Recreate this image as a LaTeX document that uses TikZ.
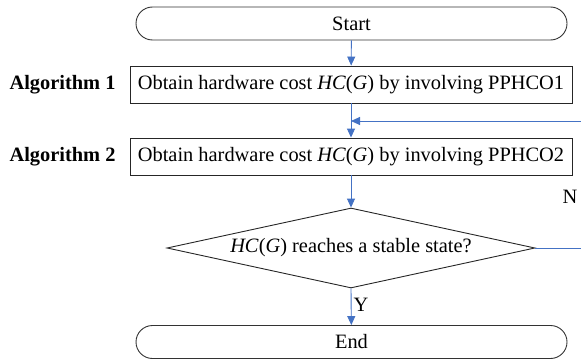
\documentclass[tikz,border=0pt]{standalone}
\usepackage{fontspec}
\setmainfont{Liberation Serif}
\usetikzlibrary{arrows.meta,shapes.geometric}
\definecolor{lineblue}{RGB}{68,114,196}
\begin{document}
\begin{tikzpicture}[x=1pt,y=-1pt,
  font=\fontsize{20.4}{24}\selectfont,
  term/.style={draw=black!80, line width=0.9pt, rounded corners=16.5pt, minimum width=431pt, minimum height=33pt, inner sep=0pt},
  procbox/.style={draw=black!85, line width=0.9pt, minimum width=442pt, minimum height=37pt, inner sep=0pt},
  decbox/.style={draw=black!85, line width=0.9pt, diamond, minimum width=368pt, minimum height=80pt, inner sep=0pt, shape aspect=4.6},
  arr/.style={draw=lineblue, line width=0.9pt, -{Triangle[length=9pt,width=8pt]}},
  ln/.style={draw=lineblue, line width=0.9pt},
  side/.style={font=\fontsize{20.4}{24}\selectfont\bfseries, inner sep=0pt}
]
\useasboundingbox (0,0) rectangle (581,361);
\node[term] (start) at (351.5,23.5) {Start};
\node[procbox] (b1) at (351,84.5) {Obtain hardware cost \textit{HC}(\textit{G}) by involving PPHCO1};
\node[procbox] (b2) at (351,156.5) {Obtain hardware cost \textit{HC}(\textit{G}) by involving PPHCO2};
\node[decbox] (dec) at (351,248) {};
\node (dect) at (351,248) {\textit{HC}(\textit{G}) reaches a stable state?};
\node[term] (end) at (351.5,342) {End};
\node[side] (a1) at (62.5,85) {Algorithm 1};
\node[side] (a2) at (62.5,157) {Algorithm 2};
\node[inner sep=0pt] (nlab) at (570,197) {N};
\coordinate (rr) at (581,248);
\coordinate (rt) at (581,121);
\draw[arr] (start) -- (b1);
\draw[arr] (b1) -- (b2);
\draw[arr] (b2) -- (dec.north);
\draw[arr] (dec.south) -- node[right, inner sep=2pt, pos=0.45] (ylab) {Y} (end);
\draw[ln] (dec.east) -- (rr);
\draw[arr] (rt) -- (rt -| b1.south);
\end{tikzpicture}
\end{document}
